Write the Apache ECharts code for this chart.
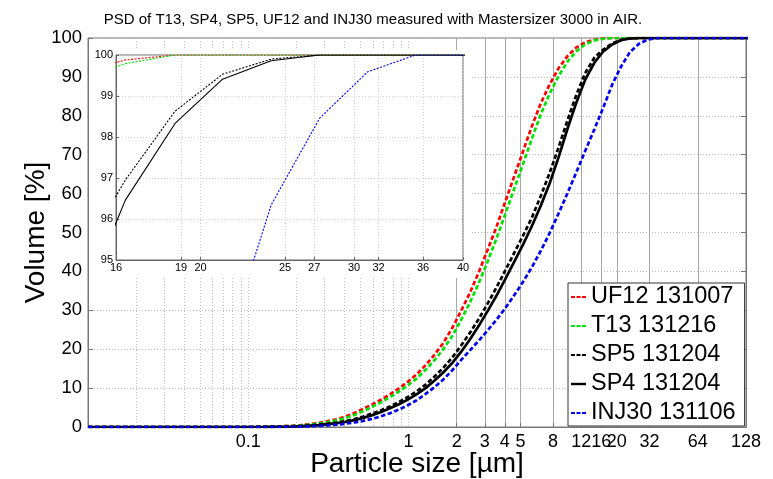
<!DOCTYPE html>
<html><head><meta charset="utf-8">
<script src="https://cdn.jsdelivr.net/npm/echarts@6/dist/echarts.min.js"></script>
<style>html,body{margin:0;padding:0;background:#fff}#c{width:773px;height:479px}</style>
</head><body><div id="c"></div>
<script>
// Mastersizer 3000 size classes (µm)
const sizes = [0.0100,0.0114,0.0129,0.0147,0.0167,0.0189,0.0215,0.0244,0.0278,0.0315,0.0358,0.0407,0.0463,0.0526,0.0597,0.0679,0.0771,0.0876,0.0995,
  0.113,0.128,0.146,0.166,0.188,0.214,0.243,0.276,0.314,0.357,0.405,0.460,0.523,0.594,0.675,0.767,0.872,0.991,
  1.13,1.28,1.45,1.65,1.88,2.13,2.42,2.75,3.12,3.55,4.03,4.58,5.21,5.92,6.72,7.64,8.68,9.86,
  11.2,12.7,14.5,16.4,18.7,21.2,24.1,27.4,31.1,35.3,40.1,45.6,51.8,58.9,66.9,76.0,86.4,98.1,111,127,144];
const zeros19 = [0,0,0,0,0,0,0,0,0,0,0,0,0,0,0,0,0,0,0];
const uf12 = zeros19.concat([0.02,0.05,0.1,0.2,0.32,0.5,0.75,1.05,1.5,2.0,2.7,3.6,4.7,5.8,7.0,8.4,9.9,11.6,
  13.6,15.9,18.5,21.6,25.5,29.8,34.5,39.8,45.5,51.5,58.0,64.5,71.0,77.5,83.3,88.2,92.3,95.4,
  97.6,98.9,99.56,99.88,100,100,100,100,100,100,100,100,100,100,100,100,100,100,100,100,100]);
const t13 = zeros19.concat([0.01,0.03,0.07,0.14,0.25,0.4,0.6,0.88,1.25,1.72,2.3,3.1,4.1,5.2,6.35,7.65,9.1,10.7,
  12.5,14.7,17.1,20.0,23.4,27.5,32.0,37.0,42.5,48.5,54.8,61.3,67.8,74.3,80.5,85.8,90.3,94.0,
  96.6,98.4,99.4,99.79,100,100,100,100,100,100,100,100,100,100,100,100,100,100,100,100,100]);
const sp5 = zeros19.concat([0.01,0.02,0.05,0.1,0.17,0.27,0.4,0.6,0.85,1.15,1.55,2.05,2.7,3.45,4.3,5.3,6.4,7.7,
  9.2,10.9,12.9,15.2,17.9,20.9,24.2,27.8,31.7,35.9,40.3,44.8,49.3,54.0,59.5,65.5,72.0,79.0,
  85.5,91.0,95.0,96.95,98.63,99.53,99.9,100,100,100,100,100,100,100,100,100,100,100,100,100,100]);
const sp4 = zeros19.concat([0,0.01,0.03,0.07,0.13,0.21,0.33,0.49,0.72,1.0,1.33,1.78,2.35,3.05,3.85,4.8,5.85,7.05,
  8.45,10.0,11.9,14.0,16.5,19.3,22.5,26.0,29.8,33.8,38.1,42.5,47.0,51.8,57.0,62.8,69.5,76.8,
  83.5,89.3,93.7,96.46,98.33,99.41,99.86,100,100,100,100,100,100,100,100,100,100,100,100,100,100]);
const inj30 = zeros19.concat([0,0,0.01,0.03,0.06,0.11,0.18,0.28,0.42,0.6,0.85,1.15,1.58,2.1,2.75,3.55,4.5,5.6,
  6.9,8.5,10.2,12.2,14.6,17.2,19.7,22.2,24.8,27.6,30.6,33.9,37.4,41.2,45.4,50.0,55.0,60.2,
  65.6,71.0,76.6,82.0,88.0,92.6,96.34,98.46,99.59,100,100,100,100,100,100,100,100,100,100,100,100]);

const seriesNames = ['UF12 131007','T13 131216','SP5 131204','SP4 131204','INJ30 131106'];
const seriesValues = [uf12, t13, sp5, sp4, inj30];
const seriesColors = ['#ff0000','#00e000','#000000','#000000','#0000ee'];
const seriesDashed = [true, true, true, false, true];

const xLabelValues = [0.1,1,2,3,4,5,8,12,16,20,32,64,128];
const xMajorGrid = [2,3,4,5,8,12,16,20,32,64];
const xMinorGrid = [0.02,0.03,0.04,0.05,0.06,0.07,0.08,0.09,0.1,0.2,0.3,0.4,0.5,0.6,0.7,0.8,0.9,1];
const insetXValues = [16,19,20,25,27,30,32,36,40];

const FONT = 'Liberation Sans, Arial, sans-serif';
const fmt = v => String(+(+v).toPrecision(6));
const DASH_ICON = 'path://M0,0h4v2.2h-4zM5.5,0h4v2.2h-4zM11,0h4v2.2h-4z';
const SOLID_ICON = 'path://M0,0h15v2.4h-15z';

function pairs(vals){ return sizes.map((s,i)=>[s, vals[i]]); }

const series = [];
seriesNames.forEach((n,i)=>{
  series.push({
    name: n, type: 'line', xAxisIndex: 0, yAxisIndex: 0, data: pairs(seriesValues[i]),
    showSymbol: false, symbol: 'none', z: 2, animation: false,
    lineStyle: {color: seriesColors[i], width: 2.7, type: seriesDashed[i] ? [4.5, 2.5] : 'solid'},
    itemStyle: {color: seriesColors[i]}
  });
});
seriesNames.forEach((n,i)=>{
  series.push({
    name: n + ' (inset)', type: 'line', xAxisIndex: 2, yAxisIndex: 2, data: pairs(seriesValues[i]),
    showSymbol: false, symbol: 'none', z: 12, animation: false, clip: true,
    lineStyle: {color: seriesColors[i], width: 1.1, type: seriesDashed[i] ? [2, 1.5] : 'solid'}
  });
});

const chart = echarts.init(document.getElementById('c'), null, {renderer: 'canvas'});
chart.setOption({
  animation: false,
  backgroundColor: '#ffffff',
  textStyle: {fontFamily: FONT},
  title: {
    text: 'PSD of T13, SP4, SP5, UF12 and INJ30 measured with Mastersizer 3000 in AIR.',
    left: 368, top: 7, textAlign: 'center',
    textStyle: {fontFamily: FONT, fontSize: 15, fontWeight: 'normal', color: '#000'}
  },
  grid: [
    {left: 88, right: 27, top: 38, bottom: 52, show: true, borderColor: '#777', borderWidth: 1,
     backgroundColor: 'transparent', z: 0, containLabel: false, outerBoundsMode: 'none'},
    {left: 116, right: 310, top: 55, bottom: 219, show: true, borderColor: '#666', borderWidth: 1,
     backgroundColor: 'transparent', z: 11, containLabel: false, outerBoundsMode: 'none'}
  ],
  graphic: [{
    type: 'rect', z: 10, silent: true,
    shape: {x: 89, y: 50, width: 381, height: 228},
    style: {fill: '#ffffff', stroke: null}
  }],
  legend: {
    data: seriesNames.map((n,i)=>({name: n, icon: seriesDashed[i] ? DASH_ICON : SOLID_ICON, itemStyle: {color: seriesColors[i]}})),
    orient: 'vertical', left: 568, top: 283,
    padding: [2, 9, 1, 3], itemGap: 5, itemWidth: 15, itemHeight: 3,
    backgroundColor: '#ffffff', borderColor: '#333', borderWidth: 1, borderRadius: 0,
    textStyle: {fontFamily: FONT, fontSize: 23.5, color: '#000', lineHeight: 23},
    z: 20
  },
  xAxis: [
    {
      type: 'log', logBase: 10, gridIndex: 0, min: 0.01, max: 128, position: 'bottom',
      name: 'Particle size [µm]', nameLocation: 'middle', nameGap: 23, nameMoveOverlap: false,
      nameTextStyle: {fontFamily: FONT, fontSize: 28, color: '#000'},
      axisLine: {show: true, lineStyle: {color: '#777'}},
      axisTick: {show: true, inside: true, length: 4, customValues: xMajorGrid, lineStyle: {color: '#777'}},
      axisLabel: {customValues: xLabelValues, formatter: fmt, fontSize: 18, color: '#000', margin: 6, hideOverlap: false, fontFamily: FONT},
      splitLine: {show: true, lineStyle: {color: '#a8a8a8', width: 1, type: 'solid'}},
      minorTick: {show: false}, minorSplitLine: {show: false}
    },
    {
      type: 'log', logBase: 10, gridIndex: 0, min: 0.01, max: 128, position: 'top',
      axisLine: {show: true, lineStyle: {color: '#777'}},
      axisTick: {show: false, customValues: xMinorGrid},
      axisLabel: {show: false, customValues: xMinorGrid},
      splitLine: {show: true, lineStyle: {color: '#bbbbbb', width: 1, type: [1, 2]}}
    },
    {
      type: 'log', logBase: 10, gridIndex: 1, min: 16, max: 40, position: 'bottom', z: 11,
      axisLine: {show: true, lineStyle: {color: '#666'}},
      axisTick: {show: true, inside: true, length: 3, customValues: insetXValues, lineStyle: {color: '#666'}},
      axisLabel: {customValues: insetXValues, formatter: fmt, fontSize: 11, color: '#000', margin: 2, hideOverlap: false, fontFamily: FONT},
      splitLine: {show: true, lineStyle: {color: '#d0d0d0', width: 1, type: [1, 2]}}
    }
  ],
  yAxis: [
    {
      type: 'value', gridIndex: 0, min: 0, max: 100, interval: 10, position: 'left',
      name: 'Volume [%]', nameLocation: 'middle', nameGap: 38, nameRotate: 90, nameMoveOverlap: false,
      nameTextStyle: {fontFamily: FONT, fontSize: 28, color: '#000'},
      axisLine: {show: true, lineStyle: {color: '#777'}},
      axisTick: {show: true, inside: true, length: 5, lineStyle: {color: '#777'}},
      axisLabel: {fontSize: 18.5, color: '#000', margin: 6, fontFamily: FONT},
      splitLine: {show: true, lineStyle: {color: '#bbbbbb', width: 1, type: [1, 2]}}
    },
    {
      type: 'value', gridIndex: 0, min: 0, max: 100, interval: 10, position: 'right',
      axisLine: {show: true, lineStyle: {color: '#777'}},
      axisTick: {show: true, inside: true, length: 5, lineStyle: {color: '#777'}},
      axisLabel: {show: false}, splitLine: {show: false}
    },
    {
      type: 'value', gridIndex: 1, min: 95, max: 100, interval: 1, position: 'left', z: 11,
      axisLine: {show: true, lineStyle: {color: '#666'}},
      axisTick: {show: true, inside: true, length: 3, lineStyle: {color: '#666'}},
      axisLabel: {fontSize: 11, color: '#000', margin: 3, fontFamily: FONT},
      splitLine: {show: true, lineStyle: {color: '#d0d0d0', width: 1, type: [1, 2]}}
    }
  ],
  series: series
});
</script>
</body></html>
